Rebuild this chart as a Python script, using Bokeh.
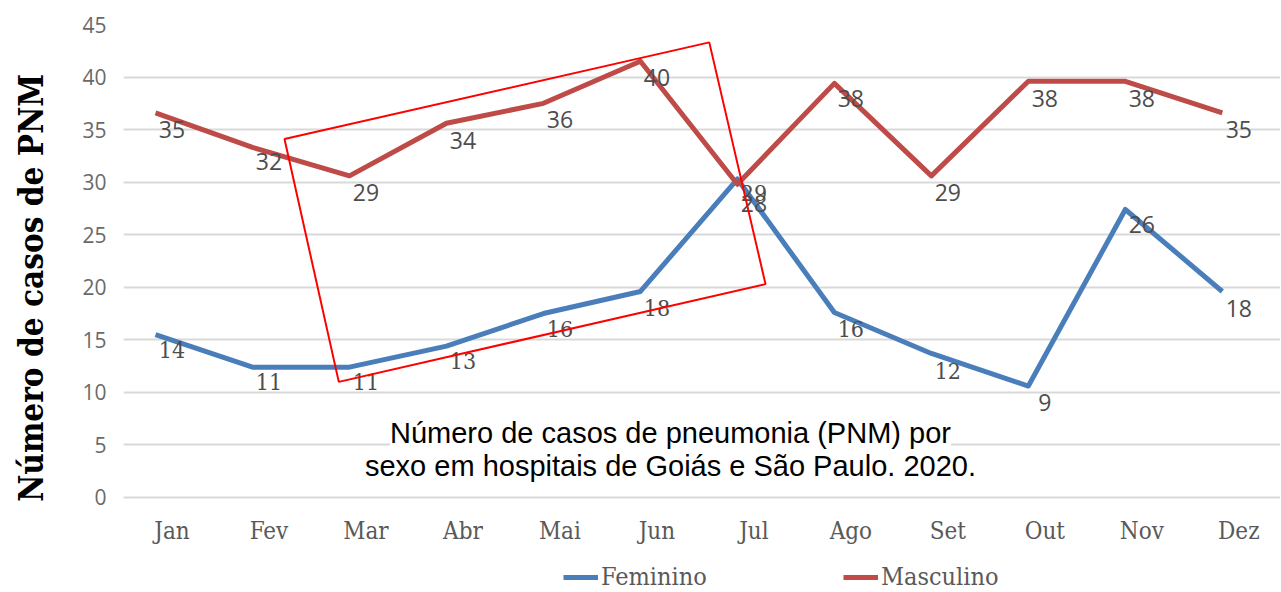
import numpy as np
from bokeh.plotting import figure
from bokeh.models import Range1d, FixedTicker, ColumnDataSource, Label, Legend, LegendItem
from bokeh.embed import file_html
from bokeh.resources import INLINE

# ---------------- data ----------------
months = ["Jan", "Fev", "Mar", "Abr", "Mai", "Jun", "Jul", "Ago", "Set", "Out", "Nov", "Dez"]
# plotted line positions (as drawn in the picture)
feminino = [15.5, 12.4, 12.4, 14.4, 17.5, 19.6, 30.3, 17.6, 13.7, 10.6, 27.4, 19.6]
masculino = [36.6, 33.3, 30.6, 35.6, 37.5, 41.5, 29.8, 39.4, 30.6, 39.6, 39.6, 36.6]
# data labels (as printed in the picture)
feminino_labels = [14, 11, 11, 13, 16, 18, 29, 16, 12, 9, 26, 18]
masculino_labels = [35, 32, 29, 34, 36, 40, 28, 38, 29, 38, 38, 35]
y_ticks = [0, 5, 10, 15, 20, 25, 30, 35, 40, 45]
title_lines = ["Número de casos de pneumonia (PNM) por",
               "sexo em hospitais de Goiás e São Paulo. 2020."]
y_label = "Número de casos de  PNM"
# hand-drawn red box (annotation), data coordinates
box_x = [1.16, 5.54, 6.12, 1.72]
box_y = [34.1, 43.3, 20.3, 11.0]

# ---------------- style ----------------
BLUE = "#4a7ebb"
RED = "#be4b48"
SANS = "Open Sans"
SERIF = "DejaVu Serif Condensed"
LINE_SHIFT = -0.17
Y_MIN = -9.04   # extra room under 0 for month labels and legend

idx = np.arange(len(months))

p = figure(width=1280, height=592,
           x_range=Range1d(-0.5, 11.43), y_range=Range1d(Y_MIN, 45),
           output_backend="svg", toolbar_location=None,
           min_border_left=123, min_border_top=24, min_border_right=0,
           min_border_bottom=0)
p.outline_line_color = None
p.background_fill_color = "white"
p.border_fill_color = "white"

# axes
p.yaxis.ticker = FixedTicker(ticks=y_ticks)
p.yaxis.axis_line_color = None
p.yaxis.major_tick_line_color = None
p.yaxis.minor_tick_line_color = None
p.yaxis.major_label_standoff = 11
p.yaxis.major_label_text_font = SANS
p.yaxis.major_label_text_font_size = "21px"
p.yaxis.major_label_text_color = "#6a6a6a"
p.yaxis.axis_label = "\u00a0" * 5 + y_label
p.yaxis.axis_label_text_font = SERIF
p.yaxis.axis_label_text_font_style = "bold"
p.yaxis.axis_label_text_font_size = "33px"
p.yaxis.axis_label_text_color = "black"
p.yaxis.axis_label_standoff = 28

p.xaxis.fixed_location = 0
p.xaxis.ticker = FixedTicker(ticks=list(idx))
p.xaxis.major_label_overrides = {int(i): m for i, m in zip(idx, months)}
p.xaxis.axis_line_color = None
p.xaxis.major_tick_line_color = None
p.xaxis.minor_tick_line_color = None
p.xaxis.major_label_standoff = 14
p.xaxis.major_label_text_font = SERIF
p.xaxis.major_label_text_font_size = "24px"
p.xaxis.major_label_text_color = "#595959"

p.xgrid.grid_line_color = None
p.ygrid.grid_line_color = "#d9d9d9"
p.ygrid.grid_line_width = 2

# lines
rf = p.line(idx + LINE_SHIFT, feminino, line_color=BLUE, line_width=5, line_join="round")
rm = p.line(idx + LINE_SHIFT, masculino, line_color=RED, line_width=5, line_join="round")

# data labels
fem_fonts = [SERIF] * 9 + [SANS] * 3
src_f = ColumnDataSource(dict(x=idx, y=feminino_labels,
                              text=[str(v) for v in feminino_labels], font=fem_fonts))
src_m = ColumnDataSource(dict(x=idx, y=masculino_labels,
                              text=[str(v) for v in masculino_labels], font=[SANS] * 12))
for src in (src_m, src_f):
    p.text(x="x", y="y", text="text", source=src, text_font="font",
           text_font_size="23px", text_color="#4d4d4d",
           text_align="center", text_baseline="middle")

# red box
p.patch(box_x, box_y, fill_color=None, line_color="red", line_width=2)

# centered caption
for ty, line in zip([6.15, 2.95], title_lines):
    p.add_layout(Label(x=5.14, y=ty, text=line, text_font="Liberation Sans",
                       text_font_size="29px", text_color="black",
                       text_align="center", text_baseline="middle",
                       background_fill_color="white"))

legend = Legend(items=[LegendItem(label="Feminino", renderers=[rf]),
                       LegendItem(label="Masculino", renderers=[rm])],
                orientation="horizontal", location=(440, 1), spacing=130,
                glyph_width=35, glyph_height=22, label_standoff=3, label_width=112,
                padding=0, margin=0, border_line_color=None,
                background_fill_alpha=0,
                label_text_font=SERIF, label_text_font_size="25px",
                label_text_color="#595959")
p.add_layout(legend)

open("out.html", "w").write(file_html(p, INLINE))
